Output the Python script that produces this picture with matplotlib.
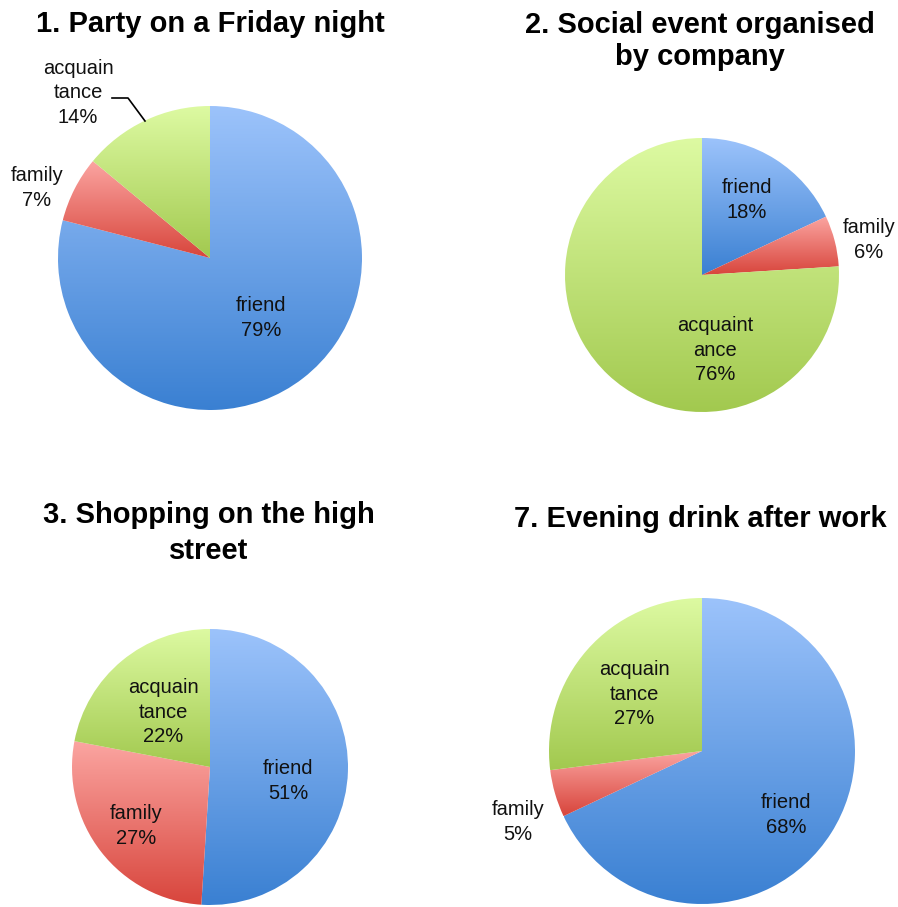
import numpy as np
import matplotlib
matplotlib.use("Agg")
import matplotlib.pyplot as plt
from matplotlib.colors import LinearSegmentedColormap

plt.rcParams['font.family'] = ['Liberation Sans', 'DejaVu Sans']

W, H = 898, 907

# share of people who would go with each group
categories = ["friend", "family", "acquaintance"]
titles = [
    "1. Party on a Friday night",
    "2. Social event organised\nby company",
    "3. Shopping on the high\nstreet",
    "7. Evening drink after work",
]
friend = [79, 18, 51, 68]
family = [7, 6, 27, 5]
acquaintance = [14, 76, 22, 27]

# label text per slice (the long word is broken over two lines)
label_names = [
    ["friend", "family", "acquain\ntance"],
    ["friend", "family", "acquaint\nance"],
    ["friend", "family", "acquain\ntance"],
    ["friend", "family", "acquain\ntance"],
]

# pie centre and radius in pixels
pies = [(210, 258, 152), (702, 275, 137), (210, 767, 138), (702, 751, 153)]
title_pos = [(210, 24), (700, 41), (209, 533), (700, 519)]
title_spacing = [1.2, 1.15, 1.35, 1.2]

# label centres, in pixels
label_pos = [
    [(261, 318), (37, 188), (78, 93)],
    [(747, 200), (869, 240), (715, 350)],
    [(288, 781), (136, 826), (163, 712)],
    [(786, 815), (518, 822), (634, 694)],
]

# light (top) -> dark (bottom) per slice colour
gradients = [
    ("#9cc3fb", "#3a80d2"),
    ("#fba5a1", "#d8453c"),
    ("#ddfaa2", "#a2c94f"),
]
cmaps = [LinearSegmentedColormap.from_list("g%d" % i, [b, t])
         for i, (t, b) in enumerate(gradients)]

fig = plt.figure(figsize=(W / 100, H / 100), dpi=100)

grad = np.linspace(0, 1, 256).reshape(-1, 1)

for k in range(4):
    cx, cy, r = pies[k]
    ax = fig.add_axes([(cx - r) / W, 1 - (cy + r) / H, 2 * r / W, 2 * r / H])
    ax.axis('off')
    vals = [friend[k], family[k], acquaintance[k]]
    wedges, _ = ax.pie(vals, startangle=90, counterclock=False, radius=1,
                       wedgeprops=dict(linewidth=0))
    # fill each slice with its own top-to-bottom shading
    for i, w in enumerate(wedges):
        ext = w.get_path().get_extents()
        w.set_facecolor('none')
        im = ax.imshow(grad, cmap=cmaps[i], aspect='auto', origin='lower',
                       extent=[ext.x0, ext.x1, ext.y0, ext.y1], zorder=1)
        im.set_clip_path(w)
    ax.set_xlim(-1, 1)
    ax.set_ylim(-1, 1)
    ax.set_aspect('equal')

    for i in range(3):
        px, py = label_pos[k][i]
        fig.text(px / W, 1 - py / H, "%s\n%d%%" % (label_names[k][i], vals[i]),
                 ha='center', va='center', fontsize=14.5, color='#111111',
                 linespacing=1.38)

    tx, ty = title_pos[k]
    fig.text(tx / W, 1 - ty / H, titles[k], ha='center', va='center',
             fontsize=21, fontweight='bold', linespacing=title_spacing[k])

# leader line for the small acquaintance label in the first pie
pts = np.array([(112, 98), (128, 98), (145, 121)])
fig.add_artist(plt.Line2D(pts[:, 0] / W, 1 - pts[:, 1] / H, color='black',
                          linewidth=1.2, transform=fig.transFigure))

fig.savefig("out.png", dpi=100)
